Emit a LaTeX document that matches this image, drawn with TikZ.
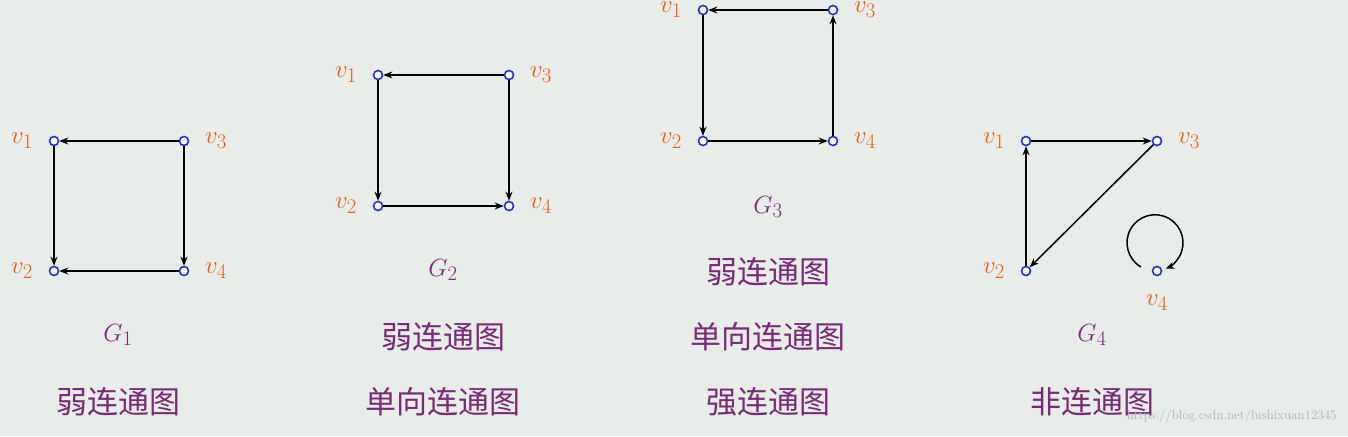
\documentclass[tikz,border=0pt]{standalone}
\usepackage{fontspec}
\newfontfamily\cjk{Noto Sans CJK SC}
\usetikzlibrary{arrows.meta}
\definecolor{bg}{HTML}{E9EDE9}
\definecolor{vblue}{HTML}{1F2FE0}
\definecolor{vred}{HTML}{F05A14}
\definecolor{purp}{HTML}{7A2A78}
\begin{document}
\begin{tikzpicture}[x=1pt,y=-1pt,
  vert/.style={circle,draw=vblue,fill=white,line width=1.6pt,inner sep=0pt,minimum size=9pt},
  vlab/.style={text=vred,font=\fontsize{31}{32}\selectfont},
  glab/.style={text=purp,font=\fontsize{30}{32}\selectfont},
  ctext/.style={text=purp,font=\cjk\fontsize{31}{33}\selectfont},
  arr/.style={-{Stealth[length=9pt,width=7pt]},line width=1.5pt,black}]
\fill[bg] (0,0) rectangle (1348,436);
\useasboundingbox (0,0) rectangle (1348,436);
% G1
\node[vert] (a1) at (54,141) {}; \node[vert] (a3) at (184,141) {};
\node[vert] (a2) at (54,271) {}; \node[vert] (a4) at (184,271) {};
\node[vlab] (la1) at (22,141) {$v_1$}; \node[vlab] (la3) at (216,141) {$v_3$};
\node[vlab] (la2) at (22,271) {$v_2$}; \node[vlab] (la4) at (216,271) {$v_4$};
\draw[arr] (a3) -- (a1); \draw[arr] (a1) -- (a2); \draw[arr] (a3) -- (a4); \draw[arr] (a4) -- (a2);
\node[glab] (g1) at (118,335) {$G_1$};
\node[ctext] (t1) at (118,402) {弱连通图};
% G2
\node[vert] (b1) at (378,75) {}; \node[vert] (b3) at (509,75) {};
\node[vert] (b2) at (378,206) {}; \node[vert] (b4) at (509,206) {};
\node[vlab] (lb1) at (346,75) {$v_1$}; \node[vlab] (lb3) at (541,75) {$v_3$};
\node[vlab] (lb2) at (346,206) {$v_2$}; \node[vlab] (lb4) at (541,206) {$v_4$};
\draw[arr] (b3) -- (b1); \draw[arr] (b1) -- (b2); \draw[arr] (b2) -- (b4); \draw[arr] (b3) -- (b4);
\node[glab] (g2) at (443,270) {$G_2$};
\node[ctext] (t2a) at (443,337) {弱连通图};
\node[ctext] (t2b) at (443,402) {单向连通图};
% G3
\node[vert] (c1) at (703,10) {}; \node[vert] (c3) at (833,10) {};
\node[vert] (c2) at (703,141) {}; \node[vert] (c4) at (833,141) {};
\node[vlab] (lc1) at (671,10) {$v_1$}; \node[vlab] (lc3) at (865,10) {$v_3$};
\node[vlab] (lc2) at (671,141) {$v_2$}; \node[vlab] (lc4) at (865,141) {$v_4$};
\draw[arr] (c3) -- (c1); \draw[arr] (c1) -- (c2); \draw[arr] (c2) -- (c4); \draw[arr] (c4) -- (c3);
\node[glab] (g3) at (768,207) {$G_3$};
\node[ctext] (t3a) at (768,272) {弱连通图};
\node[ctext] (t3b) at (768,337) {单向连通图};
\node[ctext] (t3c) at (768,402) {强连通图};
% G4
\node[vert] (d1) at (1026,141) {}; \node[vert] (d3) at (1157,141) {};
\node[vert] (d2) at (1026,271) {}; \node[vert] (d4) at (1157,271) {};
\node[vlab] (ld1) at (994,141) {$v_1$}; \node[vlab] (ld3) at (1189,141) {$v_3$};
\node[vlab] (ld2) at (994,271) {$v_2$}; \node[vlab] (ld4) at (1157,303) {$v_4$};
\draw[arr] (d2) -- (d1); \draw[arr] (d1) -- (d3); \draw[arr] (d3) -- (d2);
\coordinate (lp) at (1141,267);
\draw[arr] (lp) arc[start angle=120,end angle=428,radius=28];
\node[glab] (g4) at (1092,335) {$G_4$};
\node[ctext] (t4) at (1092,402) {非连通图};
\node[text=gray!60,font=\fontsize{13}{14}\selectfont,anchor=east] (wm) at (1340,416) {https://blog.csdn.net/lushixuan12345};
\end{tikzpicture}
\end{document}
